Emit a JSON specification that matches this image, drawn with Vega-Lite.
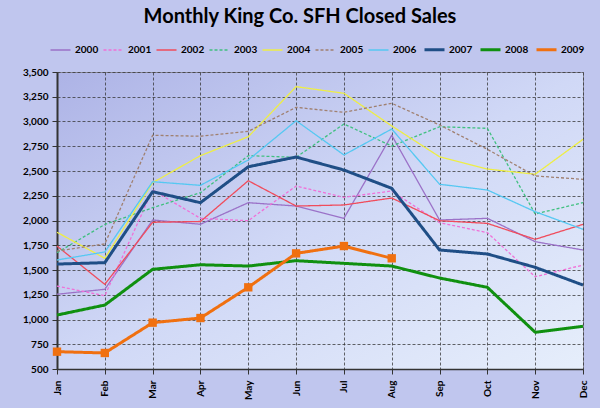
{
  "$schema": "https://vega.github.io/schema/vega-lite/v6.json",
  "autosize": "none",
  "width": 526,
  "height": 297,
  "padding": {"left": 57, "top": 72, "right": 17, "bottom": 39},
  "background": "#c0c6ee",
  "title": {
    "text": "Monthly King Co. SFH Closed Sales",
    "font": "Lato",
    "fontSize": 20,
    "fontWeight": "bold",
    "color": "#000000",
    "anchor": "middle",
    "frame": "group",
    "dx": -20,
    "offset": 11
  },
  "config": {
    "view": {
      "stroke": "#8a8a9a",
      "strokeWidth": 1,
      "fill": {
        "gradient": "linear",
        "x1": 0, "y1": 0, "x2": 1, "y2": 1,
        "stops": [
          {"offset": 0, "color": "#adb3e6"},
          {"offset": 0.5, "color": "#d0d8f6"},
          {"offset": 1, "color": "#e6eefb"}
        ]
      }
    },
    "axis": {
      "labelFont": "Lato",
      "labelFontWeight": "bold",
      "labelFontSize": 10,
      "labelColor": "#000000",
      "gridColor": "#333333",
      "gridDash": [3, 2],
      "gridOpacity": 0.75,
      "gridWidth": 1,
      "domainColor": "#333333",
      "tickColor": "#333333",
      "title": null
    },
    "legend": {
      "labelFont": "Lato",
      "labelFontWeight": "bold",
      "labelFontSize": 10,
      "labelColor": "#000000",
      "title": null,
      "orient": "none",
      "legendX": -8,
      "legendY": -34,
      "direction": "horizontal",
      "columns": 10,
      "symbolType": "stroke",
      "symbolSize": 400,
      "labelOffset": 3,
      "columnPadding": 1
    }
  },
  "data": {
    "values": [
      {"month": "Jan", "year": "2000", "sales": 1255},
      {"month": "Feb", "year": "2000", "sales": 1305},
      {"month": "Mar", "year": "2000", "sales": 2005},
      {"month": "Apr", "year": "2000", "sales": 1962},
      {"month": "May", "year": "2000", "sales": 2180},
      {"month": "Jun", "year": "2000", "sales": 2146},
      {"month": "Jul", "year": "2000", "sales": 2022},
      {"month": "Aug", "year": "2000", "sales": 2861},
      {"month": "Sep", "year": "2000", "sales": 2005},
      {"month": "Oct", "year": "2000", "sales": 2022},
      {"month": "Nov", "year": "2000", "sales": 1786},
      {"month": "Dec", "year": "2000", "sales": 1702},

      {"month": "Jan", "year": "2001", "sales": 1338},
      {"month": "Feb", "year": "2001", "sales": 1240},
      {"month": "Mar", "year": "2001", "sales": 2308},
      {"month": "Apr", "year": "2001", "sales": 2022},
      {"month": "May", "year": "2001", "sales": 1998},
      {"month": "Jun", "year": "2001", "sales": 2348},
      {"month": "Jul", "year": "2001", "sales": 2234},
      {"month": "Aug", "year": "2001", "sales": 2298},
      {"month": "Sep", "year": "2001", "sales": 1978},
      {"month": "Oct", "year": "2001", "sales": 1877},
      {"month": "Nov", "year": "2001", "sales": 1432},
      {"month": "Dec", "year": "2001", "sales": 1550},

      {"month": "Jan", "year": "2002", "sales": 1742},
      {"month": "Feb", "year": "2002", "sales": 1355},
      {"month": "Mar", "year": "2002", "sales": 1982},
      {"month": "Apr", "year": "2002", "sales": 1990},
      {"month": "May", "year": "2002", "sales": 2402},
      {"month": "Jun", "year": "2002", "sales": 2146},
      {"month": "Jul", "year": "2002", "sales": 2157},
      {"month": "Aug", "year": "2002", "sales": 2227},
      {"month": "Sep", "year": "2002", "sales": 1998},
      {"month": "Oct", "year": "2002", "sales": 1971},
      {"month": "Nov", "year": "2002", "sales": 1810},
      {"month": "Dec", "year": "2002", "sales": 1961},

      {"month": "Jan", "year": "2003", "sales": 1675},
      {"month": "Feb", "year": "2003", "sales": 1960},
      {"month": "Mar", "year": "2003", "sales": 2129},
      {"month": "Apr", "year": "2003", "sales": 2281},
      {"month": "May", "year": "2003", "sales": 2655},
      {"month": "Jun", "year": "2003", "sales": 2638},
      {"month": "Jul", "year": "2003", "sales": 2975},
      {"month": "Aug", "year": "2003", "sales": 2752},
      {"month": "Sep", "year": "2003", "sales": 2947},
      {"month": "Oct", "year": "2003", "sales": 2931},
      {"month": "Nov", "year": "2003", "sales": 2066},
      {"month": "Dec", "year": "2003", "sales": 2180},

      {"month": "Jan", "year": "2004", "sales": 1881},
      {"month": "Feb", "year": "2004", "sales": 1618},
      {"month": "Mar", "year": "2004", "sales": 2382},
      {"month": "Apr", "year": "2004", "sales": 2655},
      {"month": "May", "year": "2004", "sales": 2846},
      {"month": "Jun", "year": "2004", "sales": 3352},
      {"month": "Jul", "year": "2004", "sales": 3285},
      {"month": "Aug", "year": "2004", "sales": 2955},
      {"month": "Sep", "year": "2004", "sales": 2644},
      {"month": "Oct", "year": "2004", "sales": 2520},
      {"month": "Nov", "year": "2004", "sales": 2467},
      {"month": "Dec", "year": "2004", "sales": 2820},

      {"month": "Jan", "year": "2005", "sales": 1692},
      {"month": "Feb", "year": "2005", "sales": 1763},
      {"month": "Mar", "year": "2005", "sales": 2861},
      {"month": "Apr", "year": "2005", "sales": 2851},
      {"month": "May", "year": "2005", "sales": 2901},
      {"month": "Jun", "year": "2005", "sales": 3143},
      {"month": "Jul", "year": "2005", "sales": 3093},
      {"month": "Aug", "year": "2005", "sales": 3184},
      {"month": "Sep", "year": "2005", "sales": 2965},
      {"month": "Oct", "year": "2005", "sales": 2719},
      {"month": "Nov", "year": "2005", "sales": 2450},
      {"month": "Dec", "year": "2005", "sales": 2416},

      {"month": "Jan", "year": "2006", "sales": 1601},
      {"month": "Feb", "year": "2006", "sales": 1682},
      {"month": "Mar", "year": "2006", "sales": 2392},
      {"month": "Apr", "year": "2006", "sales": 2355},
      {"month": "May", "year": "2006", "sales": 2611},
      {"month": "Jun", "year": "2006", "sales": 3008},
      {"month": "Jul", "year": "2006", "sales": 2662},
      {"month": "Aug", "year": "2006", "sales": 2924},
      {"month": "Sep", "year": "2006", "sales": 2366},
      {"month": "Oct", "year": "2006", "sales": 2308},
      {"month": "Nov", "year": "2006", "sales": 2089},
      {"month": "Dec", "year": "2006", "sales": 1911},

      {"month": "Jan", "year": "2007", "sales": 1560},
      {"month": "Feb", "year": "2007", "sales": 1574},
      {"month": "Mar", "year": "2007", "sales": 2291},
      {"month": "Apr", "year": "2007", "sales": 2180},
      {"month": "May", "year": "2007", "sales": 2543},
      {"month": "Jun", "year": "2007", "sales": 2641},
      {"month": "Jul", "year": "2007", "sales": 2510},
      {"month": "Aug", "year": "2007", "sales": 2325},
      {"month": "Sep", "year": "2007", "sales": 1702},
      {"month": "Oct", "year": "2007", "sales": 1662},
      {"month": "Nov", "year": "2007", "sales": 1527},
      {"month": "Dec", "year": "2007", "sales": 1348},

      {"month": "Jan", "year": "2008", "sales": 1045},
      {"month": "Feb", "year": "2008", "sales": 1146},
      {"month": "Mar", "year": "2008", "sales": 1507},
      {"month": "Apr", "year": "2008", "sales": 1553},
      {"month": "May", "year": "2008", "sales": 1540},
      {"month": "Jun", "year": "2008", "sales": 1594},
      {"month": "Jul", "year": "2008", "sales": 1567},
      {"month": "Aug", "year": "2008", "sales": 1540},
      {"month": "Sep", "year": "2008", "sales": 1419},
      {"month": "Oct", "year": "2008", "sales": 1325},
      {"month": "Nov", "year": "2008", "sales": 871},
      {"month": "Dec", "year": "2008", "sales": 931},

      {"month": "Jan", "year": "2009", "sales": 675},
      {"month": "Feb", "year": "2009", "sales": 662},
      {"month": "Mar", "year": "2009", "sales": 968},
      {"month": "Apr", "year": "2009", "sales": 1015},
      {"month": "May", "year": "2009", "sales": 1325},
      {"month": "Jun", "year": "2009", "sales": 1668},
      {"month": "Jul", "year": "2009", "sales": 1742},
      {"month": "Aug", "year": "2009", "sales": 1618}
    ]
  },
  "encoding": {
    "x": {
      "field": "month",
      "type": "ordinal",
      "sort": ["Jan","Feb","Mar","Apr","May","Jun","Jul","Aug","Sep","Oct","Nov","Dec"],
      "scale": {"type": "point", "padding": 0},
      "axis": {
        "labelAngle": -90,
        "labelAlign": "right",
        "labelBaseline": "middle",
        "grid": true,
        "domainWidth": 1.5,
        "tickSize": 5,
        "labelPadding": 6
      }
    },
    "y": {
      "field": "sales",
      "type": "quantitative",
      "scale": {"domain": [500, 3500], "nice": false, "zero": false},
      "axis": {
        "values": [500,750,1000,1250,1500,1750,2000,2250,2500,2750,3000,3250,3500],
        "format": ",.0f",
        "grid": true,
        "domainWidth": 2,
        "tickSize": 5,
        "labelPadding": 4
      }
    }
  },
  "layer": [
    {
      "mark": {"type": "line", "strokeJoin": "round"},
      "encoding": {
        "color": {
          "field": "year",
          "type": "nominal",
          "scale": {
            "domain": ["2000","2001","2002","2003","2004","2005","2006","2007","2008","2009"],
            "range": ["#9b72c8","#f070d8","#f04c5c","#40c080","#eeee44","#a08070","#55c8f2","#1f4e86","#109010","#f07010"]
          }
        },
        "strokeDash": {
          "field": "year",
          "type": "nominal",
          "scale": {
            "domain": ["2000","2001","2002","2003","2004","2005","2006","2007","2008","2009"],
            "range": [[1,0],[3,2],[1,0],[3,2],[1,0],[3,2],[1,0],[1,0],[1,0],[1,0]]
          }
        },
        "strokeWidth": {
          "field": "year",
          "type": "nominal",
          "scale": {
            "type": "ordinal",
            "domain": ["2000","2001","2002","2003","2004","2005","2006","2007","2008","2009"],
            "range": [1.3,1.3,1.3,1.3,1.3,1.3,1.3,3,3,3]
          }
        }
      }
    },
    {
      "transform": [{"filter": "datum.year === '2009'"}],
      "mark": {"type": "point", "shape": "square", "filled": true, "size": 70, "color": "#f07010", "opacity": 1}
    }
  ]
}
